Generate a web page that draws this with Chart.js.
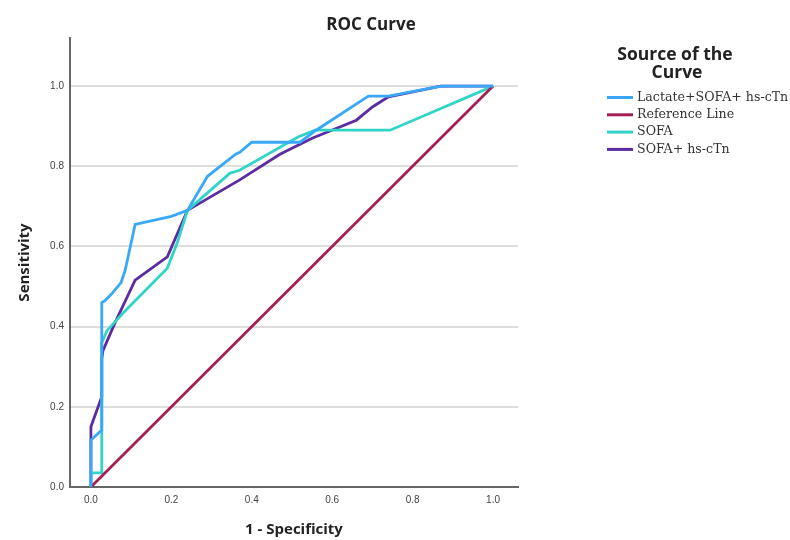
<!DOCTYPE html>
<html>
<head>
<meta charset="utf-8">
<script src="https://cdn.jsdelivr.net/npm/chart.js@4/dist/chart.umd.min.js"></script>
<style>
  html, body { margin: 0; padding: 0; background: #fff; }
  #wrap { width: 790px; height: 540px; }
</style>
</head>
<body>
<div id="wrap"><canvas id="myChart" width="790" height="540"></canvas></div>
<script>
// ROC curves (x = 1 - specificity, y = sensitivity)
var lactateX = [0, 0, 0.027, 0.027, 0.035, 0.05, 0.075, 0.085, 0.11, 0.2, 0.24, 0.29, 0.36, 0.37, 0.40, 0.52, 0.56, 0.69, 0.74, 0.87, 1];
var lactateY = [0, 0.117, 0.142, 0.46, 0.465, 0.48, 0.51, 0.54, 0.655, 0.675, 0.69, 0.775, 0.83, 0.835, 0.86, 0.86, 0.89, 0.975, 0.975, 1, 1];

var refX = [0, 1];
var refY = [0, 1];

var sofaX = [0, 0, 0.027, 0.027, 0.04, 0.08, 0.19, 0.215, 0.24, 0.346, 0.37, 0.515, 0.557, 0.744, 1];
var sofaY = [0, 0.035, 0.035, 0.36, 0.39, 0.434, 0.546, 0.61, 0.69, 0.783, 0.79, 0.873, 0.89, 0.89, 1];

var sofaCtnX = [0, 0, 0.027, 0.027, 0.03, 0.06, 0.11, 0.19, 0.24, 0.37, 0.47, 0.55, 0.66, 0.70, 0.74, 0.87, 1];
var sofaCtnY = [0, 0.15, 0.225, 0.32, 0.34, 0.41, 0.516, 0.574, 0.69, 0.766, 0.83, 0.87, 0.915, 0.948, 0.973, 1, 1];

var seriesNames = ['Lactate+SOFA+ hs-cTn', 'Reference Line', 'SOFA', 'SOFA+ hs-cTn'];
var tickVals = [0, 0.2, 0.4, 0.6, 0.8, 1.0];

var colors = ['#3aa8f8', '#a31f55', '#30d5c8', '#5b2ca0'];

function pts(xs, ys) {
    return xs.map(function (x, i) { return { x: x, y: ys[i] }; });
}

var seriesData = [pts(lactateX, lactateY), pts(refX, refY), pts(sofaX, sofaY), pts(sofaCtnX, sofaCtnY)];

// title + legend drawn by hand so they sit where the original has them
var extras = {
    id: 'extras',
    afterDraw: function (chart) {
        var c = chart.ctx;
        c.save();
        c.fillStyle = '#222';
        c.textAlign = 'center';
        c.textBaseline = 'middle';
        c.font = 'bold 17px "Open Sans"';
        c.fillText('ROC Curve', 371, 25);

        c.font = 'bold 17.5px "Open Sans"';
        c.fillText('Source of the', 675, 55);
        c.fillText('Curve', 677, 73);

        c.textAlign = 'left';
        c.font = '12.6px "DejaVu Serif"';
        chart.data.datasets.forEach(function (ds, i) {
            var y = 97.5 + i * 17.3;
            c.strokeStyle = ds.borderColor;
            c.lineWidth = 3;
            c.beginPath();
            c.moveTo(607, y);
            c.lineTo(633, y);
            c.stroke();
            c.fillStyle = '#333';
            c.fillText(ds.label, 637, y);
        });
        c.restore();
    }
};

var ctx = document.getElementById('myChart').getContext('2d');
var myChart = new Chart(ctx, {
    type: 'line',
    data: {
        datasets: seriesNames.map(function (name, i) {
            return {
                label: name,
                data: seriesData[i],
                borderColor: colors[i],
                backgroundColor: colors[i],
                borderWidth: 2.8,
                pointRadius: 0,
                tension: 0,
                fill: false
            };
        })
    },
    options: {
        responsive: false,
        animation: false,
        layout: {
            padding: { left: 0, right: 272, top: 38, bottom: 0 }
        },
        plugins: {
            legend: { display: false },
            title: { display: false },
            tooltip: { enabled: false }
        },
        scales: {
            x: {
                type: 'linear',
                min: -0.052,
                max: 1.062,
                afterBuildTicks: function (scale) {
                    scale.ticks = tickVals.map(function (v) { return { value: v }; });
                },
                afterFit: function (scale) { scale.height = 53; },
                grid: { display: false, drawTicks: false },
                border: { display: true, color: '#666', width: 2 },
                ticks: {
                    padding: 7,
                    color: '#444',
                    font: { size: 10, family: 'Liberation Sans' },
                    callback: function (v) { return Number(v).toFixed(1); }
                },
                title: {
                    display: true,
                    text: '1 - Specificity',
                    color: '#222',
                    font: { size: 15, weight: 'bold', family: 'Open Sans' },
                    padding: { top: 0, bottom: 1 }
                }
            },
            y: {
                type: 'linear',
                min: 0,
                max: 1.12,
                afterBuildTicks: function (scale) {
                    scale.ticks = tickVals.map(function (v) { return { value: v }; });
                },
                afterFit: function (scale) { scale.width = 70; },
                grid: {
                    drawTicks: false,
                    lineWidth: 2,
                    color: function (c) { return c.tick && c.tick.value === 0 ? 'rgba(0,0,0,0)' : '#dddddd'; }
                },
                border: { display: true, color: '#666', width: 2 },
                ticks: {
                    padding: 6,
                    color: '#444',
                    font: { size: 10, family: 'Liberation Sans' },
                    callback: function (v) { return Number(v).toFixed(1); }
                },
                title: {
                    display: true,
                    text: 'Sensitivity',
                    color: '#222',
                    font: { size: 15, weight: 'bold', family: 'Open Sans' },
                    padding: { top: 16, bottom: 0 }
                }
            }
        }
    },
    plugins: [extras]
});
</script>
</body>
</html>
